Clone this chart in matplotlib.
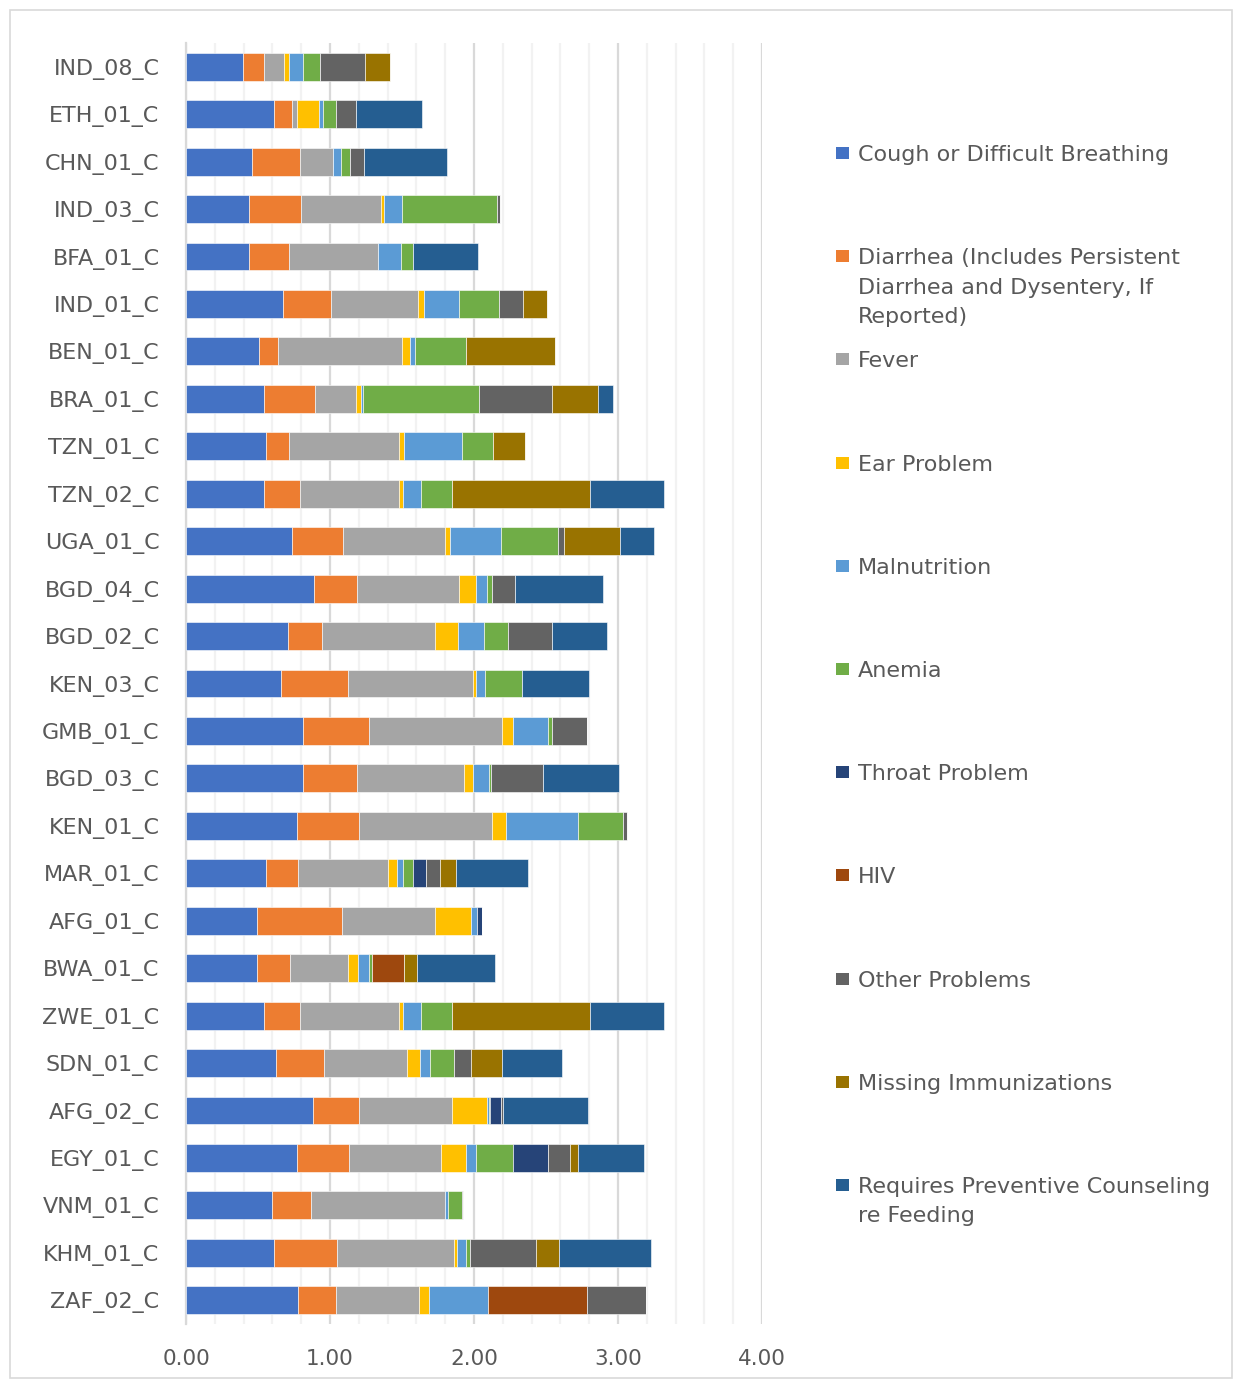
import matplotlib.pyplot as plt
import matplotlib.patches as mpatches
import numpy as np

# Categorias (de cima para baixo)
paises = ["IND_08_C", "ETH_01_C", "CHN_01_C", "IND_03_C", "BFA_01_C", "IND_01_C",
          "BEN_01_C", "BRA_01_C", "TZN_01_C", "TZN_02_C", "UGA_01_C", "BGD_04_C",
          "BGD_02_C", "KEN_03_C", "GMB_01_C", "BGD_03_C", "KEN_01_C", "MAR_01_C",
          "AFG_01_C", "BWA_01_C", "ZWE_01_C", "SDN_01_C", "AFG_02_C", "EGY_01_C",
          "VNM_01_C", "KHM_01_C", "ZAF_02_C"]

series_nomes = ["Cough or Difficult Breathing",
                "Diarrhea (Includes Persistent\nDiarrhea and Dysentery, If\nReported)",
                "Fever", "Ear Problem", "Malnutrition", "Anemia", "Throat Problem",
                "HIV", "Other Problems", "Missing Immunizations",
                "Requires Preventive Counseling\nre Feeding"]

cough = [0.394, 0.611, 0.456, 0.438, 0.438, 0.674, 0.509, 0.544, 0.558, 0.544, 0.738, 0.891,
         0.706, 0.662, 0.815, 0.815, 0.773, 0.558, 0.491, 0.491, 0.544, 0.623, 0.880, 0.773,
         0.597, 0.611, 0.780]
diarrhea = [0.150, 0.125, 0.336, 0.363, 0.280, 0.333, 0.132, 0.354, 0.160, 0.250, 0.354, 0.299,
            0.238, 0.465, 0.454, 0.375, 0.428, 0.222, 0.593, 0.234, 0.250, 0.338, 0.322, 0.361,
            0.271, 0.440, 0.259]
fever = [0.139, 0.035, 0.229, 0.553, 0.613, 0.602, 0.861, 0.282, 0.764, 0.688, 0.708, 0.708,
         0.787, 0.868, 0.926, 0.741, 0.926, 0.625, 0.648, 0.403, 0.688, 0.576, 0.646, 0.639,
         0.931, 0.810, 0.581]
ear = [0.035, 0.153, 0.0, 0.019, 0.0, 0.044, 0.053, 0.035, 0.030, 0.023, 0.035, 0.113,
       0.160, 0.016, 0.074, 0.065, 0.097, 0.058, 0.248, 0.065, 0.023, 0.086, 0.245, 0.171,
       0.0, 0.021, 0.069]
malnutrition = [0.097, 0.030, 0.053, 0.125, 0.164, 0.245, 0.037, 0.012, 0.403, 0.130, 0.350, 0.081,
                0.181, 0.063, 0.245, 0.111, 0.495, 0.042, 0.042, 0.076, 0.130, 0.074, 0.014, 0.067,
                0.019, 0.063, 0.405]
anemia = [0.116, 0.086, 0.065, 0.662, 0.081, 0.273, 0.352, 0.806, 0.215, 0.213, 0.396, 0.035,
          0.167, 0.259, 0.025, 0.009, 0.315, 0.074, 0.0, 0.023, 0.213, 0.164, 0.005, 0.257,
          0.100, 0.025, 0.0]
throat = [0.0, 0.0, 0.0, 0.0, 0.0, 0.0, 0.0, 0.0, 0.0, 0.0, 0.0, 0.0,
          0.0, 0.0, 0.0, 0.0, 0.0, 0.090, 0.032, 0.0, 0.0, 0.0, 0.074, 0.245,
          0.0, 0.0, 0.0]
hiv = [0.0, 0.0, 0.0, 0.0, 0.0, 0.0, 0.0, 0.0, 0.0, 0.0, 0.0, 0.0,
       0.0, 0.0, 0.0, 0.0, 0.0, 0.0, 0.0, 0.222, 0.0, 0.0, 0.0, 0.0,
       0.0, 0.0, 0.690]
other = [0.315, 0.141, 0.095, 0.023, 0.0, 0.171, 0.0, 0.512, 0.0, 0.0, 0.042, 0.155,
         0.301, 0.0, 0.245, 0.366, 0.028, 0.095, 0.0, 0.0, 0.0, 0.116, 0.014, 0.153,
         0.007, 0.461, 0.410]
missing = [0.171, 0.0, 0.0, 0.0, 0.0, 0.164, 0.616, 0.317, 0.225, 0.961, 0.389, 0.0,
           0.0, 0.0, 0.0, 0.0, 0.0, 0.109, 0.0, 0.088, 0.961, 0.218, 0.0, 0.053,
           0.0, 0.162, 0.0]
counseling = [0.0, 0.461, 0.581, 0.0, 0.451, 0.0, 0.0, 0.106, 0.0, 0.507, 0.238, 0.611,
              0.387, 0.463, 0.0, 0.528, 0.0, 0.505, 0.0, 0.546, 0.507, 0.419, 0.590, 0.463,
              0.0, 0.634, 0.0]

valores = [cough, diarrhea, fever, ear, malnutrition, anemia, throat, hiv, other, missing, counseling]
cores = ["#4472C4", "#ED7D31", "#A5A5A5", "#FFC000", "#5B9BD5", "#70AD47",
         "#264478", "#9E480E", "#636363", "#997300", "#255E91"]

W, H = 1235, 1380
fig = plt.figure(figsize=(W / 100, H / 100), dpi=100)

# borda externa do gráfico
fig.patches.append(mpatches.Rectangle((10 / W, 1 - 1378 / H), 1222 / W, 1368 / H,
                                      transform=fig.transFigure, fill=False,
                                      edgecolor="#D9D9D9", linewidth=1.2))

ax = fig.add_axes([186 / W, 1 - 1324 / H, 576 / W, 1281 / H])

y = np.arange(len(paises))
esquerda = np.zeros(len(paises))
for vals, cor, nome in zip(valores, cores, series_nomes):
    ax.barh(y, vals, left=esquerda, height=0.59, color=cor, edgecolor="white",
            linewidth=0.4, label=nome, zorder=3)
    esquerda += np.array(vals)

ax.set_xlim(0, 4)
ax.set_ylim(len(paises) - 0.5, -0.5)
ax.set_xticks([0, 1, 2, 3, 4])
ax.set_xticklabels([f"{v:.2f}" for v in [0, 1, 2, 3, 4]])
ax.set_xticks(np.arange(0, 4.01, 0.2), minor=True)
ax.set_yticks(y)
ax.set_yticklabels(paises)

ax.grid(axis="x", which="minor", color="#F2F2F2", linewidth=1.6, zorder=0)
ax.grid(axis="x", which="major", color="#D9D9D9", linewidth=1.6, zorder=0)
ax.grid(axis="y", visible=False)
for s in ["top", "right", "bottom"]:
    ax.spines[s].set_visible(False)
ax.spines["left"].set_color("#D9D9D9")
ax.spines["left"].set_linewidth(1.6)

ax.tick_params(axis="both", which="both", length=0, colors="#595959")
ax.tick_params(axis="y", pad=19, labelsize=16)
ax.tick_params(axis="x", pad=18, labelsize=15.5)

# legenda manual à direita (uma linha de texto por vez)
for i, (nome, cor) in enumerate(zip(series_nomes, cores)):
    yc = 153 + i * 103.2
    fig.patches.append(mpatches.Rectangle((836 / W, 1 - (yc + 6) / H), 13 / W, 12 / H,
                                          transform=fig.transFigure, facecolor=cor,
                                          edgecolor="none"))
    for j, linha in enumerate(nome.split("\n")):
        fig.text(858 / W, 1 - (yc + 8 + j * 29.5) / H, linha, fontsize=16,
                 color="#595959", va="baseline", ha="left")

fig.savefig("out.png", dpi=100)
